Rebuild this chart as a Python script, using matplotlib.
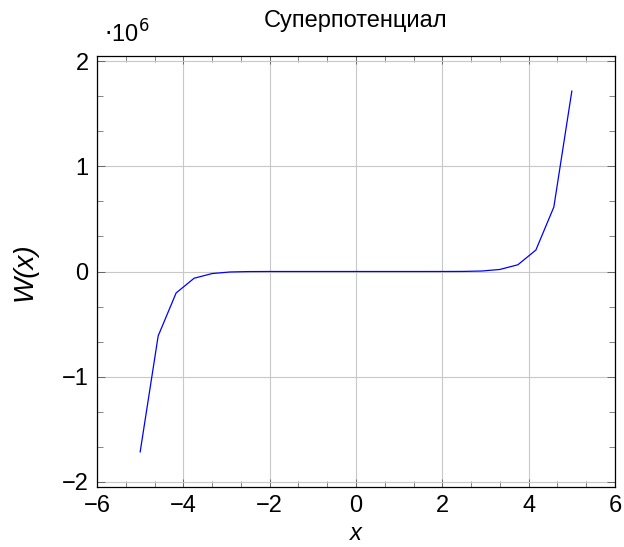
import matplotlib
matplotlib.use("Agg")
import matplotlib.pyplot as plt
from matplotlib.ticker import FuncFormatter, AutoMinorLocator

x_vals = [-5.0, -4.583, -4.167, -3.75, -3.333, -2.917, -2.5, -2.083, -1.667, -1.25, -0.833, -0.417,
          0.0, 0.417, 0.833, 1.25, 1.667, 2.083, 2.5, 2.917, 3.333, 3.75, 4.167, 4.583, 5.0]
w_vals = [-1716000, -613000, -204000, -64000, -19500, -4600, -840, -113, -10, -0.4, 0, 0,
          0, 0, 0, 0.4, 10, 113, 840, 4600, 19500, 64000, 204000, 613000, 1716000]
x_ticks = [-6, -4, -2, 0, 2, 4, 6]
y_ticks = [-2e6, -1e6, 0, 1e6, 2e6]

plt.rcParams['font.family'] = ['Liberation Sans', 'DejaVu Sans']
fig = plt.figure(figsize=(6.24, 5.47), dpi=100)
ax = fig.add_axes([97 / 624, 1 - 487 / 547, (615 - 97) / 624, (487 - 56) / 547])
ax.plot(x_vals, w_vals, color='#0000ff', lw=0.9)
ax.set_xlim(-6, 6)
ax.set_ylim(-2.05e6, 2.05e6)
ax.set_xticks(x_ticks)
ax.set_yticks(y_ticks)
ax.xaxis.set_minor_locator(AutoMinorLocator(3))
ax.yaxis.set_minor_locator(AutoMinorLocator(3))
fmt = lambda v: ('%d' % round(v)).replace('-', '\u2212')
ax.xaxis.set_major_formatter(FuncFormatter(lambda v, p: fmt(v)))
ax.yaxis.set_major_formatter(FuncFormatter(lambda v, p: fmt(v / 1e6)))
ax.grid(True, which='major', color='#c8c8c8', lw=0.8)
ax.set_axisbelow(True)
ax.tick_params(which='both', direction='in', top=True, right=True, labelsize=17, color='#555555')
ax.tick_params(which='major', length=5.5, width=0.6, pad=6)
ax.tick_params(which='minor', length=4, width=0.5)
for s in ax.spines.values():
    s.set_linewidth(0.9)
fig.text(356 / 624, 1 - 540 / 547, 'x', fontsize=17, fontstyle='italic', ha='center', va='baseline')
ax.text((25 - 97) / 518, 0.5, 'W(x)', transform=ax.transAxes, fontsize=20, fontstyle='italic',
        ha='center', va='center', rotation=90)
fig.text(0.5 * (97 + 615) / 624, 1 - 27 / 547, 'Суперпотенциал', fontsize=17, ha='center', va='baseline')
fig.text(104 / 624, 1 - 43 / 547, r'$\cdot$10$^{6}$', fontsize=17, ha='left', va='baseline')
fig.savefig('out.png', dpi=100)
